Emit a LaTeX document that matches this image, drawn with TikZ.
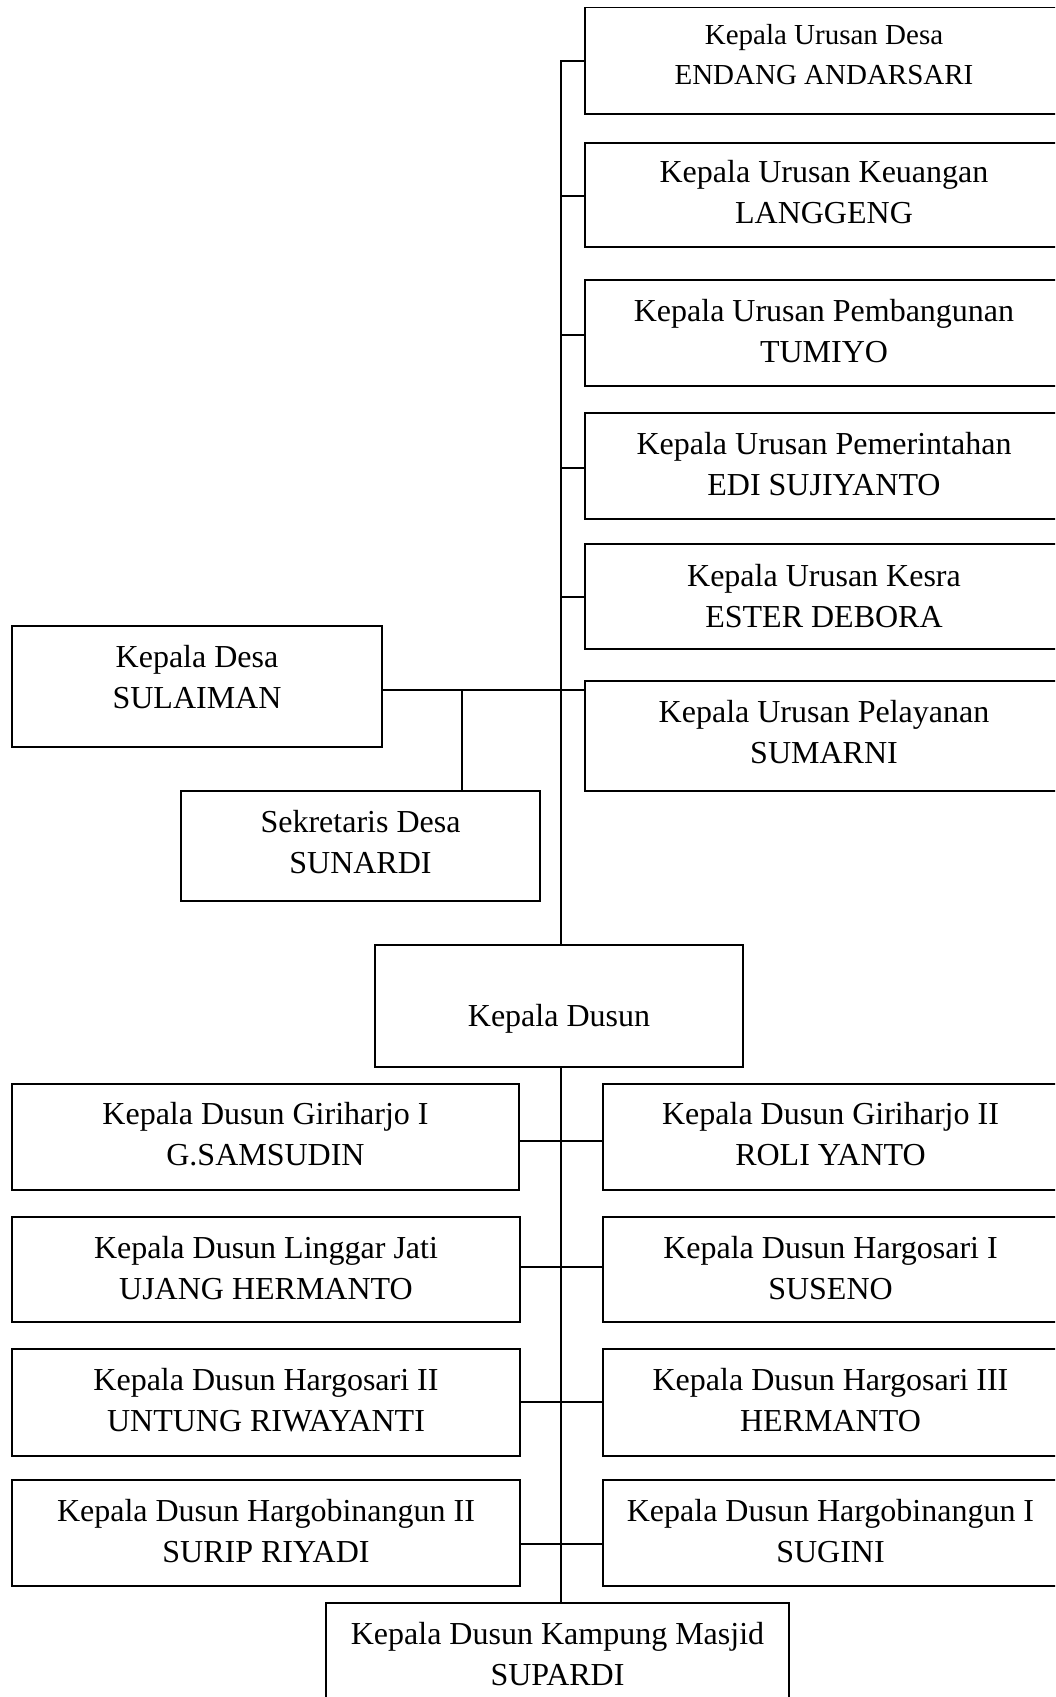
\documentclass[tikz,border=0pt]{standalone}
\usepackage{fontspec}
\setmainfont{Liberation Serif}
\tikzset{
  boxsty/.style={draw=black, line width=1.8pt, inner sep=0pt, outer sep=0pt, fill=none},
  txtsty/.style={align=center, inner sep=0pt, font=\fontsize{32}{41}\selectfont},
  smalltxt/.style={font=\fontsize{29}{40}\selectfont},
  conn/.style={draw=black, line width=1.5pt},
}
% name, left, top, right, bottom, text-centre y, text, extra text style
\newcommand\orgbox[8][]{%
  \node[boxsty, minimum width={(#4-#2)*1pt}, minimum height={(#5-#3)*1pt}] (#2n#3) at ({(#2+#4)/2},{(#3+#5)/2}) {};
}
\newcommand\obox[8]{%
  \node[boxsty, minimum width={(#4-#2)*1pt}, minimum height={(#5-#3)*1pt}] (#1) at ({(#2+#4)/2},{(#3+#5)/2}) {};
  \node[txtsty, #8] (#1t) at ({(#2+#4)/2},#6) {#7};
}
\begin{document}
\begin{tikzpicture}[x=1pt,y=-1pt]
\useasboundingbox (0,0) rectangle (1055,1697);
\clip (0,0) rectangle (1055,1697);
\fill[white] (0,0) rectangle (1055,1697);

% Kepala Urusan boxes
\obox{u1}{585}{7.5}{1063}{114}{55}{Kepala Urusan Desa\\ENDANG ANDARSARI}{smalltxt}
\obox{u2}{585}{143}{1063}{247}{192}{Kepala Urusan Keuangan\\LANGGENG}{}
\obox{u3}{585}{280}{1063}{386}{331}{Kepala Urusan Pembangunan\\TUMIYO}{}
\obox{u4}{585}{413}{1063}{519}{464}{Kepala Urusan Pemerintahan\\EDI SUJIYANTO}{}
\obox{u5}{585}{544}{1063}{649}{596}{Kepala Urusan Kesra\\ESTER DEBORA}{}
\obox{u6}{585}{681}{1063}{791}{732}{Kepala Urusan Pelayanan\\SUMARNI}{}

% Kepala Desa and Sekretaris
\obox{kdesa}{12}{626}{382}{747}{677}{Kepala Desa\\SULAIMAN}{}
\obox{sek}{181}{791}{540}{901}{842}{Sekretaris Desa\\SUNARDI}{}

% Kepala Dusun
\obox{kdus}{375}{945}{743}{1067}{1019}{Kepala Dusun}{}

% Dusun boxes
\obox{d1l}{12}{1084}{519}{1190}{1134}{Kepala Dusun Giriharjo I\\G.SAMSUDIN}{}
\obox{d1r}{603}{1084}{1058}{1190}{1134}{Kepala Dusun Giriharjo II\\ROLI YANTO}{}
\obox{d2l}{12}{1217}{520}{1322}{1268}{Kepala Dusun Linggar Jati\\UJANG HERMANTO}{}
\obox{d2r}{603}{1217}{1058}{1322}{1268}{Kepala Dusun Hargosari I\\SUSENO}{}
\obox{d3l}{12}{1349}{520}{1456}{1400}{Kepala Dusun Hargosari II\\UNTUNG RIWAYANTI}{}
\obox{d3r}{603}{1349}{1058}{1456}{1400}{Kepala Dusun Hargosari III\\HERMANTO}{}
\obox{d4l}{12}{1480}{520}{1586}{1531}{Kepala Dusun Hargobinangun II\\SURIP RIYADI}{}
\obox{d4r}{603}{1480}{1058}{1586}{1531}{Kepala Dusun Hargobinangun I\\SUGINI}{}
\obox{kmas}{326}{1603}{789}{1710}{1654}{Kepala Dusun Kampung Masjid\\SUPARDI}{}

% junction coordinates
\coordinate (sTop) at (561,61);
\coordinate (hub) at (561,690);
\coordinate (sj) at (462,690);
\coordinate (r1) at (561,1141);
\coordinate (r2) at (561,1267);
\coordinate (r3) at (561,1402);
\coordinate (r4) at (561,1544);

% spine upper
\draw[conn] (u1.west |- sTop) -- (sTop) -- (sTop |- kdus.north);
\draw[conn] (u2.west |- 0,196) -- (sTop |- 0,196);
\draw[conn] (u3.west |- 0,335) -- (sTop |- 0,335);
\draw[conn] (u4.west |- 0,468) -- (sTop |- 0,468);
\draw[conn] (u5.west |- 0,597) -- (sTop |- 0,597);
\draw[conn] (kdesa.east |- hub) -- (hub) -- (u6.west |- hub);
\draw[conn] (sj) -- (sj |- sek.north);

% spine lower
\draw[conn] (sTop |- kdus.south) -- (sTop |- kmas.north);
\draw[conn] (d1l.east |- r1) -- (d1r.west |- r1);
\draw[conn] (d2l.east |- r2) -- (d2r.west |- r2);
\draw[conn] (d3l.east |- r3) -- (d3r.west |- r3);
\draw[conn] (d4l.east |- r4) -- (d4r.west |- r4);
\end{tikzpicture}
\end{document}
